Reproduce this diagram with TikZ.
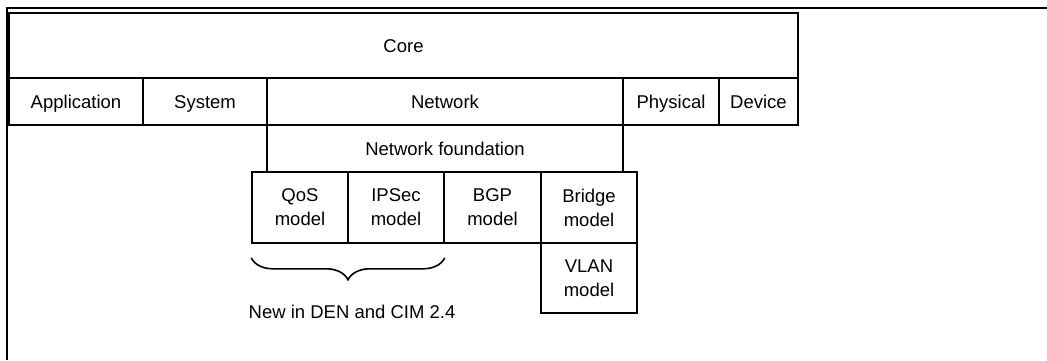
\documentclass[tikz,border=0pt]{standalone}
\usepackage{fontspec}
\setmainfont{Liberation Sans}
\usetikzlibrary{decorations.pathreplacing}

\begin{document}
\begin{tikzpicture}[x=1pt, y=-1pt,
		layer/.style={draw, line width=1.6pt, inner sep=0pt, align=center, font=\fontsize{18.5}{24}\selectfont},
		row/.style={layer, minimum height=47pt, text height=14pt, text depth=0pt},
		model/.style={layer, minimum width=96pt, minimum height=71pt}]
		\useasboundingbox (0,0) rectangle (1047,360);
		\draw [line width=2pt] (1047,8) -- (7,8) -- (7,360);
		% top layers
		\node [row, minimum width=789pt, minimum height=65pt] (core) at (403.5,45.5) {Core};
		\node [row, minimum width=134pt] (app) at (76,101.5) {Application};
		\node [row, minimum width=124pt] (sys) at (205,101.5) {System};
		\node [row, minimum width=356pt] (net) at (445,101.5) {Network};
		\node [row, minimum width=96pt] (phys) at (671,101.5) {Physical};
		\node [row, minimum width=79pt] (dev) at (758.5,101.5) {Device};
		\node [row, minimum width=356pt] (found) at (445,148.5) {Network foundation};
		% models
		\node [model] (qos) at (300,207.5) {QoS\\model};
		\node [model] (ipsec) at (396,207.5) {IPSec\\model};
		\node [model, minimum width=97pt] (bgp) at (492.5,207.5) {BGP\\model};
		\node [model] (bridge) at (589,207.5) {Bridge\\model};
		\node [model, minimum height=70pt] (vlan) at (589,278) {VLAN\\model};
		\draw [line width=1.6pt, decorate, decoration={brace, mirror, amplitude=22pt}]
			([yshift=-14pt]qos.south west) -- ([yshift=-14pt]ipsec.south east);
		\node [font=\fontsize{18.5}{24}\selectfont] (newnote) at (352,312) {New in DEN and CIM 2.4};
	\end{tikzpicture}
\end{document}
